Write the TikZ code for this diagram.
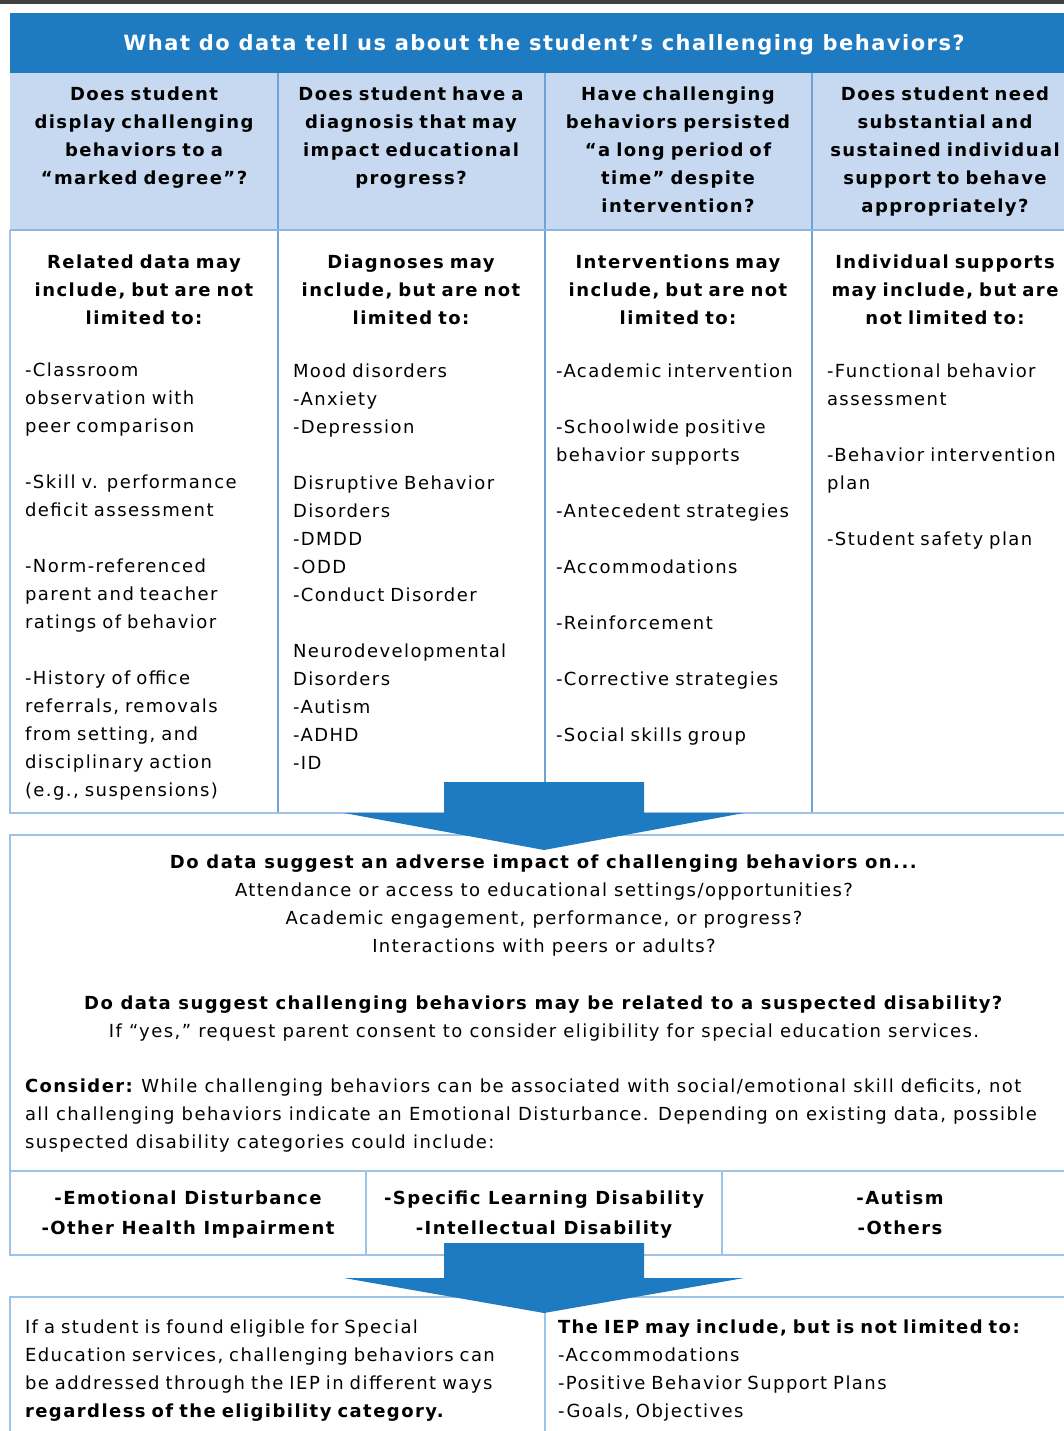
\documentclass[tikz,border=0pt]{standalone}
\usepackage{fontspec}
\setmainfont{DejaVu Sans}[LetterSpace=8]
\newfontfamily\titlefont{DejaVu Sans}[LetterSpace=7]
\usetikzlibrary{positioning}
\definecolor{hdrblue}{HTML}{1E7BC1}
\definecolor{qblue}{HTML}{C6D9F1}
\definecolor{ruleblue}{HTML}{9DC3E6}
\definecolor{sepblue}{HTML}{6FA3D8}
\definecolor{topgray}{HTML}{404040}
\newcommand{\txt}{\fontsize{18}{28}\selectfont}
\begin{document}
\begin{tikzpicture}[x=1pt,y=-1pt,inner sep=0pt,outer sep=0pt,
  frame line/.style={draw=ruleblue,line width=2.5pt},
  col line/.style={draw=sepblue,line width=1.2pt},
  head cell/.style={anchor=north,text width=250pt,align=center,font=\txt\bfseries},
  list cell/.style={text width=262pt,align=left,font=\txt},
  mid cell/.style={align=center,font=\txt},
  cat cell/.style={align=center,font=\fontsize{18}{30}\selectfont\bfseries},
  block arrow/.style={fill=hdrblue}]
\useasboundingbox (0,0) rectangle (1064,1431);
\clip (0,0) rectangle (1064,1431);
\fill[topgray] (0,0) rectangle (1064,4);

% title and question row
\fill[hdrblue] (10,13) rectangle (1078,73);
\fill[qblue] (10,73) rectangle (1078,230);
\node[font=\titlefont\fontsize{21}{26}\selectfont\bfseries,text=white] (title) at (544,45) {What do data tell us about the student’s challenging behaviors?};
\node[head cell] (q1) at (144,87) {Does student\\display challenging\\behaviors to a\\“marked degree”?};
\node[head cell] (q2) at (411,87) {Does student have a\\diagnosis that may\\impact educational\\progress?};
\node[head cell] (q3) at (678,87) {Have challenging\\behaviors persisted\\“a long period of\\time” despite\\intervention?};
\node[head cell] (q4) at (945,87) {Does student need\\substantial and\\sustained individual\\support to behave\\appropriately?};

% data row
\node[head cell] (h1) at (144,255) {Related data may\\include, but are not\\limited to:};
\node[head cell] (h2) at (411,255) {Diagnoses may\\include, but are not\\limited to:};
\node[head cell] (h3) at (678,255) {Interventions may\\include, but are not\\limited to:};
\node[head cell] (h4) at (945,255) {Individual supports\\may include, but are\\not limited to:};
\node[list cell,below=38pt of h1.south west,anchor=north west,xshift=6pt] (l1) {-Classroom\\observation with\\peer comparison\\[28pt]-Skill v. performance\\deficit assessment\\[28pt]-Norm-referenced\\parent and teacher\\ratings of behavior\\[28pt]-History of office\\referrals, removals\\from setting, and\\disciplinary action\\(e.g., suspensions)};
\node[list cell,below=39pt of h2.south west,anchor=north west,xshift=7pt] (l2) {Mood disorders\\-Anxiety\\-Depression\\[28pt]Disruptive Behavior\\Disorders\\-DMDD\\-ODD\\-Conduct Disorder\\[28pt]Neurodevelopmental\\Disorders\\-Autism\\-ADHD\\-ID};
\node[list cell,below=39pt of h3.south west,anchor=north west,xshift=3pt] (l3) {-Academic intervention\\[28pt]-Schoolwide positive\\behavior supports\\[28pt]-Antecedent strategies\\[28pt]-Accommodations\\[28pt]-Reinforcement\\[28pt]-Corrective strategies\\[28pt]-Social skills group};
\node[list cell,below=39pt of h4.south west,anchor=north west,xshift=7pt] (l4) {-Functional behavior\\assessment\\[28pt]-Behavior intervention\\plan\\[28pt]-Student safety plan};

\draw[col line] (278,73) -- (278,813) (545,73) -- (545,813) (812,73) -- (812,813);
\draw[frame line] (10,230) -- (10,813) -- (1078,813);
\draw[draw=sepblue!80,line width=2.5pt] (10,230) -- (1078,230);

% impact box
\draw[frame line] (10,835) rectangle (1078,1171);
\node[mid cell,anchor=north] (m1) at (544,855) {\textbf{Do data suggest an adverse impact of challenging behaviors on...}\\Attendance or access to educational settings/opportunities?\\Academic engagement, performance, or progress?\\Interactions with peers or adults?};
\node[mid cell,below=39pt of m1] (m2) {\textbf{Do data suggest challenging behaviors may be related to a suspected disability?}\\If “yes,” request parent consent to consider eligibility for special education services.};
\node[mid cell,align=left,anchor=north west] (m3) at (25,1079) {\textbf{Consider:}\hspace{7pt}While challenging behaviors can be associated with social/emotional skill deficits, not\\all challenging behaviors indicate an Emotional Disturbance. Depending on existing data, possible\\suspected disability categories could include:};

% categories
\draw[frame line] (10,1171) rectangle (1078,1255);
\draw[frame line] (366,1171) -- (366,1255) (722,1171) -- (722,1255);
\node[cat cell] (c1) at (188,1215) {-Emotional Disturbance\\-Other Health Impairment};
\node[cat cell] (c2) at (544,1215) {-Specific Learning Disability\\-Intellectual Disability};
\node[cat cell] (c3) at (900,1213) {-Autism\\-Others};

% IEP box
\draw[frame line] (10,1431) -- (10,1297) -- (1078,1297);
\draw[frame line] (545,1297) -- (545,1431);
\node[list cell,text width=520pt,anchor=north west] (b1) at (25,1320) {If a student is found eligible for Special\\Education services, challenging behaviors can\\be addressed through the IEP in different ways\\\textbf{regardless of the eligibility category.}};
\node[list cell,text width=500pt,anchor=north west] (b2) at (558,1320) {\textbf{The IEP may include, but is not limited to:}\\-Accommodations\\-Positive Behavior Support Plans\\-Goals, Objectives};

% arrows
\coordinate (tip1) at (544,850);
\coordinate (tip2) at (544,1313);
\fill[block arrow] (tip1) -- ++(-200,-37) -- ++(100,0) -- ++(0,-31) -- ++(200,0) -- ++(0,31) -- ++(100,0) -- cycle;
\fill[block arrow] (tip2) -- ++(-200,-35) -- ++(100,0) -- ++(0,-35) -- ++(200,0) -- ++(0,35) -- ++(100,0) -- cycle;
\end{tikzpicture}
\end{document}
